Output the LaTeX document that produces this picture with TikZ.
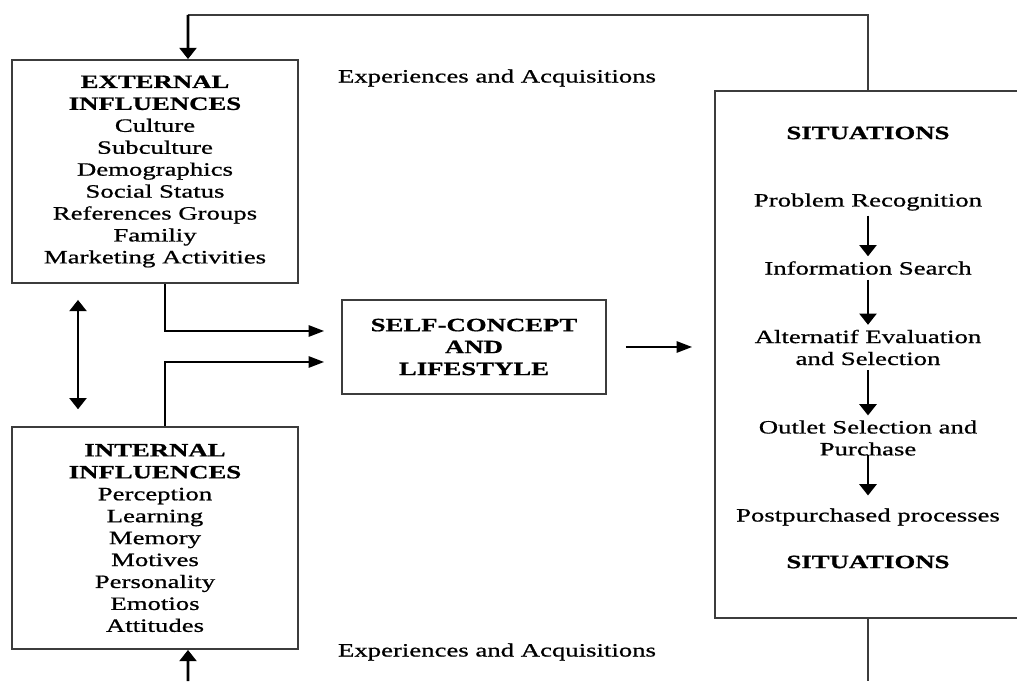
\documentclass[tikz,border=0pt]{standalone}
\usepackage{fontspec}
\setmainfont{Liberation Serif}[FakeStretch=1.42, FakeBold=0.8]
\usetikzlibrary{arrows.meta, positioning}
\definecolor{boxgray}{RGB}{60,60,60}

\begin{document}
\begin{tikzpicture}[
  txt/.style={font=\fontsize{13.4}{15.6}\selectfont, align=center},
  box/.style={txt, draw=boxgray, line width=1.3pt},
  link/.style={draw=boxgray, line width=1.3pt},
  arrv/.style={-{Triangle[length=8pt, width=12pt]}, line width=2pt},
  arrh/.style={-{Triangle[length=11pt, width=8pt]}, line width=1.4pt}
]
  \useasboundingbox (0,0) rectangle (25.425,17.025);

  \node[box, minimum width=7.15cm, minimum height=5.575cm] (ext) at (3.875,12.7375)
    {\textbf{EXTERNAL}\\\textbf{INFLUENCES}\\Culture\\Subculture\\Demographics\\Social Status\\References Groups\\Familiy\\Marketing Activities};
  \node[box, minimum width=7.15cm, minimum height=5.55cm] (int) at (3.875,3.575)
    {\textbf{INTERNAL}\\\textbf{INFLUENCES}\\Perception\\Learning\\Memory\\Motives\\Personality\\Emotios\\Attitudes};
  \node[box, minimum width=6.6cm, minimum height=2.35cm] (self) at (11.85,8.35)
    {\textbf{SELF-CONCEPT}\\\textbf{AND}\\\textbf{LIFESTYLE}};
  \node[box, minimum width=7.65cm, minimum height=13.175cm] (sit) at (21.7,8.1625) {};

  \node[txt] (exptop) at (12.425,15.075) {Experiences and Acquisitions};
  \node[txt] (expbot) at (12.425,0.725) {Experiences and Acquisitions};

  % steps inside the situations box
  \node[txt] (sittop) at (21.7,13.7) {\textbf{SITUATIONS}};
  \node[txt] (pr) at (21.7,11.975) {Problem Recognition};
  \node[txt] (is) at (21.7,10.325) {Information Search};
  \node[txt] (ae) at (21.7,8.3375) {Alternatif Evaluation\\and Selection};
  \node[txt] (os) at (21.7,6.075) {Outlet Selection and\\Purchase};
  \node[txt] (pp) at (21.7,4.1) {Postpurchased processes};
  \node[txt] (sitbot) at (21.7,2.975) {\textbf{SITUATIONS}};

  \draw[arrv] (pr) -- (is);
  \draw[arrv] (is) -- (ae);
  \draw[arrv] (ae) -- (os);
  \draw[arrv, shorten <=-0.15cm, shorten >=0.2cm] (os) -- (pp);

  % feedback loops
  \coordinate (topturn) at (4.7,16.65);
  \coordinate (botR) at (21.7,0);
  \coordinate (botL) at (4.7,0);
  \draw[link] (sit.north) |- (topturn);
  \draw[arrv] (topturn) -- ([xshift=0.825cm]ext.north);
  \draw[link] (sit.south) -- (botR);
  \draw[arrv] (botL) -- ([xshift=0.825cm]int.south);

  \draw[arrv, {Triangle[length=8pt, width=12pt]}-{Triangle[length=8pt, width=12pt]}, shorten <=0.4cm, shorten >=0.42cm]
    ([xshift=-1.925cm]ext.south) -- ([xshift=-1.925cm]int.north);

  \draw[arrh] ([xshift=0.25cm]ext.south) |- ([xshift=-0.425cm, yshift=0.4cm]self.west);
  \draw[arrh] ([xshift=0.25cm]int.north) |- ([xshift=-0.425cm, yshift=-0.375cm]self.west);
  \draw[arrh, shorten <=0.475cm, shorten >=0.55cm] (self.east) -- (self.east -| sit.west);
\end{tikzpicture}
\end{document}
